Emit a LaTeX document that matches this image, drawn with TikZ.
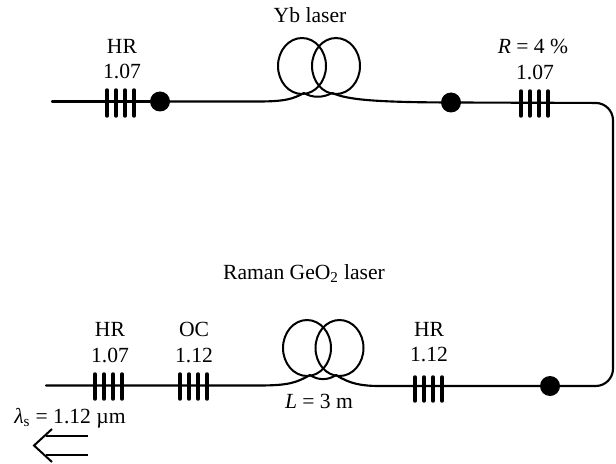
\documentclass[tikz,border=0pt]{standalone}
\usepackage{fontspec}
\setmainfont{Liberation Serif}
\usepackage{tikz}
\usetikzlibrary{shapes.geometric}
\begin{document}
\begin{tikzpicture}[x=0.75pt,y=-0.75pt,font=\fontsize{16.2}{19}\selectfont,
  fibre/.style={line width=1.6pt,line cap=round},
  bar/.style={line width=2.6pt,line cap=round},
  coil/.style={draw,ellipse,line width=1.5pt,inner sep=0pt,minimum width=36pt,minimum height=42pt},
  splice/.style={circle,fill=black,inner sep=0pt,minimum size=15pt},
  lab/.style={inner sep=0pt,anchor=base}]
\useasboundingbox (0,0) rectangle (616,463);
% top: Yb laser
\coordinate (t0) at (52,101.5);
\coordinate (g1) at (107,90);
\coordinate (g2) at (521,91);
\node[splice] (d1) at (160,101.5) {};
\node[splice] (d2) at (451,102.5) {};
\node[coil] (c1) at (302,66) {};
\node[coil] (c2) at (336,66) {};
\coordinate (c1a) at (304,93);
\coordinate (c2a) at (332,93);
\coordinate (tr) at (613,103);
\draw[fibre] (t0) -- (d1);
\draw[fibre] (d1) -- (258,101.5) .. controls (285,101.5) and (293,99) .. (c1a);
\draw[line width=1.5pt] (c1a) .. controls (312,98) and (323,98) .. (c2a);
\draw[fibre] (c2a) .. controls (345,98) and (360,102) .. (d2);
% bottom: Raman laser
\coordinate (b0) at (46,385.5);
\coordinate (g3) at (95,374);
\coordinate (g4) at (180,374);
\coordinate (g5) at (415,377);
\node[splice] (d3) at (550,386) {};
\node[coil] (c3) at (307,348) {};
\node[coil] (c4) at (339.5,348) {};
\coordinate (c3a) at (310,375);
\coordinate (c4a) at (336,375);
\coordinate (br) at (613,386);
\draw[fibre] (b0) -- (258,385.5) .. controls (288,385.5) and (296,383) .. (c3a);
\draw[line width=1.5pt] (c3a) .. controls (318,380.5) and (328,380.5) .. (c4a);
\draw[fibre] (c4a) .. controls (350,384) and (362,386) .. (380,386) -- (d3);
% long way round
\draw[fibre,rounded corners=13pt] (d2) -- (tr) -- (br) -- (d3);
% gratings
\foreach \g/\h in {g1/26,g2/25,g3/25,g4/25,g5/24}{
  \foreach \i in {0,1,2,3}{
    \draw[bar] ([xshift=\i*6.75pt]\g) -- ++(0,\h);
  }
}
% labels
\node[lab] (l1) at (310,23) {Yb laser};
\node[lab] (l2) at (122,54) {HR};
\node[lab] (l3) at (122,79) {1.07};
\node[lab] (l4) at (533,54) {\textit{R} = 4 \%};
\node[lab] (l5) at (535,80) {1.07};
\node[lab] (l6) at (304,279) {Raman GeO\textsubscript{2} laser};
\node[lab] (l7) at (110,336) {HR};
\node[lab] (l8) at (110,362) {1.07};
\node[lab] (l9) at (194,336) {OC};
\node[lab] (l10) at (194,362) {1.12};
\node[lab] (l11) at (429,336) {HR};
\node[lab] (l12) at (429,361) {1.12};
\node[lab] (l13) at (319,408) {\textit{L} = 3 m};
\node[lab] (l14) at (70,423) {\textit{λ}\textsubscript{s} = 1.12 µm};
% output arrow
\coordinate (a1) at (88,436);
\coordinate (a2) at (88,455);
\coordinate (a3) at (52,429);
\coordinate (a4) at (34,445.5);
\coordinate (a5) at (52,462);
\draw[line width=1.5pt] (a1) -- (46,436);
\draw[line width=1.5pt] (a2) -- (46,455);
\draw[line width=1.5pt] (a3) -- (a4) -- (a5);
\end{tikzpicture}
\end{document}
